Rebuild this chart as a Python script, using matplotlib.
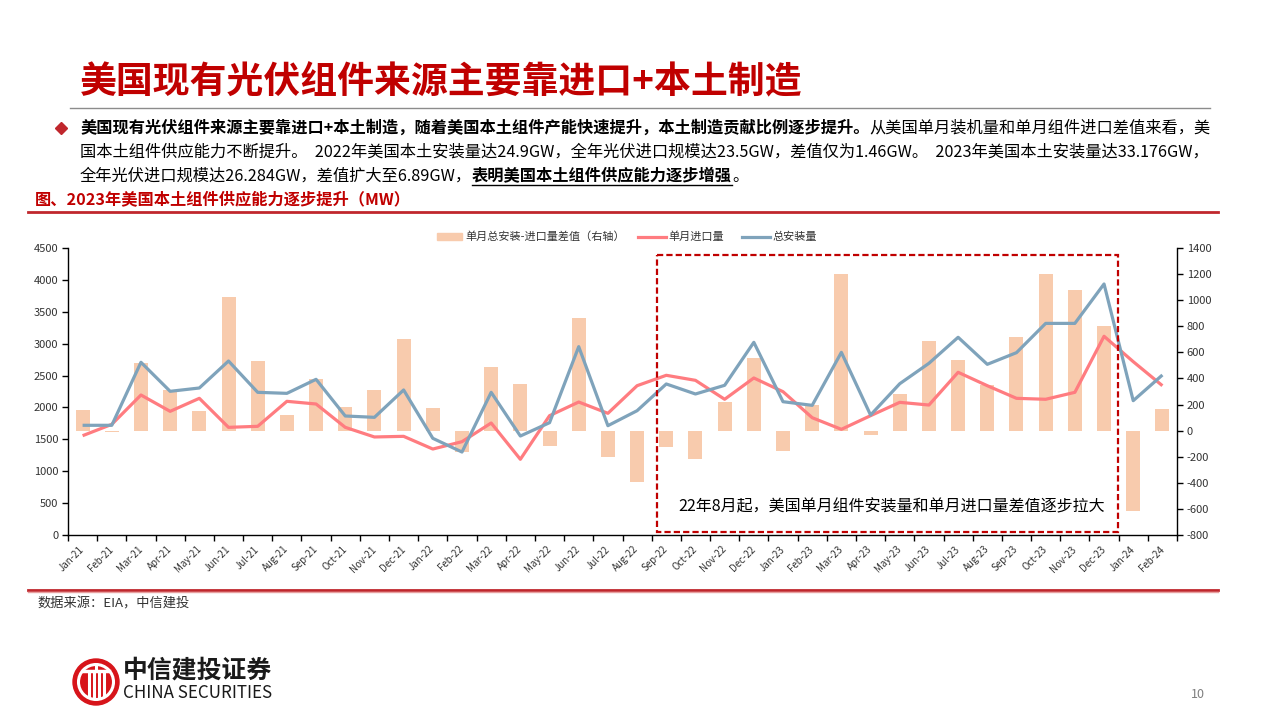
import matplotlib
matplotlib.use("Agg")
import matplotlib.pyplot as plt
from matplotlib.patches import Rectangle, Circle, Polygon
from matplotlib.lines import Line2D
import numpy as np

plt.rcParams['font.family'] = ['Noto Sans CJK SC', 'DejaVu Sans']
plt.rcParams['axes.unicode_minus'] = False

# ---------------- data ----------------
months = ["Jan-21", "Feb-21", "Mar-21", "Apr-21", "May-21", "Jun-21", "Jul-21", "Aug-21",
          "Sep-21", "Oct-21", "Nov-21", "Dec-21", "Jan-22", "Feb-22", "Mar-22", "Apr-22",
          "May-22", "Jun-22", "Jul-22", "Aug-22", "Sep-22", "Oct-22", "Nov-22", "Dec-22",
          "Jan-23", "Feb-23", "Mar-23", "Apr-23", "May-23", "Jun-23", "Jul-23", "Aug-23",
          "Sep-23", "Oct-23", "Nov-23", "Dec-23", "Jan-24", "Feb-24"]
total_install = [1720, 1720, 2708, 2253, 2305, 2728, 2237, 2221, 2441, 1866, 1845, 2274,
                 1516, 1301, 2237, 1552, 1761, 2953, 1714, 1949, 2368, 2211, 2347, 3021,
                 2090, 2033, 2864, 1881, 2372, 2692, 3100, 2676, 2859, 3318, 3318, 3936,
                 2106, 2509]
monthly_import = [1557, 1735, 2195, 1939, 2143, 1688, 1704, 2096, 2054, 1688, 1537, 1547,
                  1348, 1463, 1756, 1187, 1871, 2085, 1908, 2341, 2504, 2425, 2128, 2462,
                  2247, 1839, 1657, 1871, 2080, 2038, 2551, 2341, 2143, 2128, 2237, 3116,
                  2718, 2341]
diff_right = [161, -13, 521, 314, 153, 1027, 537, 123, 399, 184, 314, 705,
              176, -161, 486, 360, -115, 866, -199, -391, -128, -215, 222, 560,
              -158, 199, 1204, -31, 284, 690, 544, 353, 720, 1198, 1081, 805,
              -613, 169]

left_ticks = list(range(0, 4501, 500))
right_ticks = list(range(-800, 1401, 200))

title = "美国现有光伏组件来源主要靠进口+本土制造"
caption = "图、2023年美国本土组件供应能力逐步提升（MW）"
legend_labels = ["单月总安装-进口量差值（右轴）", "单月进口量", "总安装量"]
box_note = "22年8月起，美国单月组件安装量和单月进口量差值逐步拉大"
source = "数据来源：EIA，中信建投"

RED = "#C00000"
BAR_C = "#F8CBAD"
IMP_C = "#FF7C80"
TOT_C = "#7FA3BB"

W, H = 1280, 720
fig = plt.figure(figsize=(12.8, 7.2), dpi=100)
fig.patch.set_facecolor("white")

# background axes in pixel coordinates
bg = fig.add_axes([0, 0, 1, 1])
bg.set_xlim(0, W)
bg.set_ylim(H, 0)
bg.axis("off")
bg.set_zorder(0)

renderer = fig.canvas.get_renderer()


def fit_size(text, size, target, **kw):
    t = bg.text(0, 0, text, fontsize=size, **kw)
    w = t.get_window_extent(renderer).width
    t.remove()
    return size * target / w


# title
ts = fit_size(title, 27, 723, fontweight="bold")
bg.text(80, 83, title, fontsize=ts, fontweight="bold", color=RED, va="center", ha="left")
bg.plot([70, 1210], [108, 108], color="#8C8C8C", lw=1)

# bullet
bg.plot([61], [128], marker="D", color="#C0272D", markersize=6)


def draw_runs(x, y, runs, size):
    for s, weight, ul in runs:
        t = bg.text(x, y, s, fontsize=size, fontweight=weight, color="black",
                    va="center", ha="left")
        bb = t.get_window_extent(renderer)
        if ul:
            bg.plot([bb.x0, bb.x1], [y + size * 0.78, y + size * 0.78], color="black", lw=1)
        x = bb.x1
    return x


line1 = [("美国现有光伏组件来源主要靠进口+本土制造，随着美国本土组件产能快速提升，本土制造贡献比例逐步提升。", "bold", False),
         ("从美国单月装机量和单月组件进口差值来看，美", "normal", False)]
# measure line1 width for size
tmp = []
xx = 0
for s, w_, _ in line1:
    t = bg.text(xx, 0, s, fontsize=11.5, fontweight=w_)
    xx = t.get_window_extent(renderer).x1
    tmp.append(t)
wid = xx - tmp[0].get_window_extent(renderer).x0
for t in tmp:
    t.remove()
bs = 11.5 * 1133 / wid

draw_runs(80, 128, line1, bs)
draw_runs(80, 152, [("国本土组件供应能力不断提升。  2022年美国本土安装量达24.9GW，全年光伏进口规模达23.5GW，差值仅为1.46GW。  2023年美国本土安装量达33.176GW，", "normal", False)], bs)
draw_runs(80, 176, [("全年光伏进口规模达26.284GW，差值扩大至6.89GW，", "normal", False),
                    ("表明美国本土组件供应能力逐步增强", "bold", True),
                    ("。", "normal", False)], bs)

cs = fit_size(caption, 12, 375, fontweight="bold")
bg.text(35, 199, caption, fontsize=cs, fontweight="bold", color=RED, va="center", ha="left")
bg.plot([28, 1218], [212, 212], color="#C0272D", lw=2)

# bottom line and source
bg.plot([28, 1218], [589.5, 589.5], color="#C0272D", lw=2)
bg.plot([28, 1218], [591.5, 591.5], color="#E8A0A0", lw=1)
bg.text(37, 604, source, fontsize=9.5, style="italic", color="#333333", va="center", ha="left")

# logo
bg.add_patch(Circle((96, 682), 23, color="#D7141A", zorder=3))
bg.add_patch(Circle((96, 682), 17.5, fill=False, ec="white", lw=2.2, zorder=4))
bg.plot([83, 109], [671, 671], color="white", lw=2.5, zorder=5)
for xv in [88.5, 93.5, 98.5, 103.5]:
    bg.plot([xv, xv], [671, 696], color="white", lw=2.2, zorder=5)
bg.plot([96, 96], [665, 671], color="white", lw=2.2, zorder=5)
ls = fit_size("中信建投证券", 18, 149, fontweight="bold")
bg.text(123, 671, "中信建投证券", fontsize=ls, fontweight="bold", color="#1A1A1A", va="center", ha="left")
es = fit_size("CHINA SECURITIES", 11, 149, fontweight="medium")
bg.text(123, 693, "CHINA SECURITIES", fontsize=es, fontweight="medium", color="#1A1A1A", va="center", ha="left")

bg.text(1198, 695, "10", fontsize=9, color="#7F7F7F", va="center", ha="center")

# ---------------- chart ----------------
x0, x1, ytop, ybot = 68, 1177, 248, 535
ax = fig.add_axes([x0 / W, 1 - ybot / H, (x1 - x0) / W, (ybot - ytop) / H])
ax2 = ax.twinx()
ax.set_zorder(3)
ax2.set_zorder(2)
ax.patch.set_visible(False)
ax2.patch.set_visible(False)

x = np.arange(len(months))
ax2.bar(x, diff_right, width=0.48, color=BAR_C, zorder=1)
ax.plot(x, monthly_import, color=IMP_C, lw=2.3, solid_capstyle="butt", zorder=3)
ax.plot(x, total_install, color=TOT_C, lw=2.3, solid_capstyle="butt", zorder=4)

ax.set_xlim(-0.5, len(months) - 0.5)
ax.set_ylim(0, 4500)
ax2.set_ylim(-800, 1400)
ax.set_yticks(left_ticks)
ax.set_yticklabels([str(v) for v in left_ticks])
ax2.set_yticks(right_ticks)
ax2.set_yticklabels([str(v) for v in right_ticks])

ax.set_xticks(np.arange(-0.5, len(months), 1))
ax.set_xticklabels([])
ax.set_xticks(x, minor=True)
ax.set_xticklabels(months, minor=True, rotation=45, ha="right", va="center",
                   rotation_mode="anchor", fontsize=7, color="#333333")
ax.tick_params(axis="x", which="minor", length=0, pad=9)
ax.tick_params(axis="x", which="major", length=4, width=1, direction="out")
ax.tick_params(axis="y", length=4, width=1, direction="out", labelsize=8, labelcolor="#333333", pad=3)
ax2.tick_params(axis="y", length=4, width=1, direction="out", labelsize=8, labelcolor="#333333", pad=3)

for a in (ax, ax2):
    a.spines["top"].set_visible(False)
ax.spines["right"].set_visible(False)
ax2.spines["left"].set_visible(False)
ax2.spines["bottom"].set_visible(False)
for s in ("left", "bottom"):
    ax.spines[s].set_linewidth(1)
ax2.spines["right"].set_linewidth(1)

# legend (manual)
bg.add_patch(Rectangle((437, 233), 25, 7, color=BAR_C, zorder=5))
bg.text(465, 236.5, legend_labels[0], fontsize=8, color="#333333", va="center", ha="left")
bg.plot([638, 666], [236.5, 236.5], color=IMP_C, lw=2.3)
bg.text(668, 236.5, legend_labels[1], fontsize=8, color="#333333", va="center", ha="left")
bg.plot([742, 770], [236.5, 236.5], color=TOT_C, lw=2.3)
bg.text(772, 236.5, legend_labels[2], fontsize=8, color="#333333", va="center", ha="left")

# dashed highlight box (overlay)
ov = fig.add_axes([0, 0, 1, 1])
ov.set_xlim(0, W)
ov.set_ylim(H, 0)
ov.axis("off")
ov.set_zorder(5)
ov.patch.set_visible(False)
ov.add_patch(Rectangle((657, 255), 1118 - 657, 532 - 255, fill=False, ec=RED,
                       lw=1.6, linestyle=(0, (2.8, 1.4))))
ns = fit_size(box_note, 11.5, 427)
ov.text(678, 507, box_note, fontsize=ns, color="black", va="center", ha="left")

fig.savefig("out.png", dpi=100, facecolor="white")
